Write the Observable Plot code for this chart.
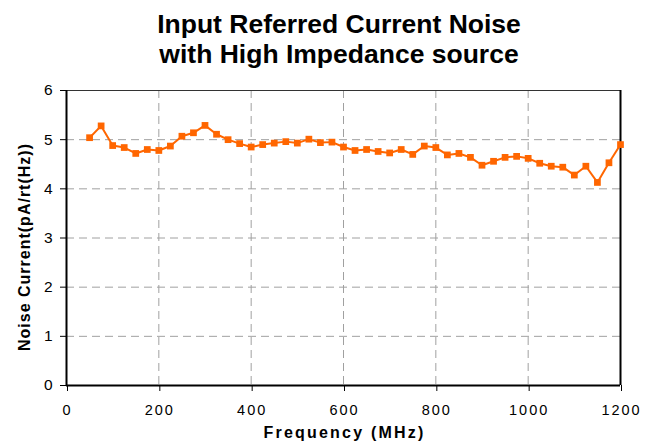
<!DOCTYPE html>
<html><head>
<meta charset="utf-8">
<script src="https://cdn.jsdelivr.net/npm/d3@7"></script>
<script src="https://cdn.jsdelivr.net/npm/@observablehq/plot@0.6"></script>
<style>
body{margin:0;background:#fff;font-family:"Liberation Sans",Arial,sans-serif;}
#title{width:651px;height:80px;box-sizing:border-box;padding-top:9px;padding-left:27px;text-align:center;font-weight:bold;font-size:26.5px;line-height:30px;color:#000;white-space:nowrap;}
.xlab text{letter-spacing:2.2px;}
.ylab text{letter-spacing:1px;}
</style></head><body>
<div id="title">Input Referred Current Noise<br>with High Impedance source</div>
<div id="chart"></div>
<script>
const frequencies=[50,75,100,125,150,175,200,225,250,275,300,325,350,375,400,425,450,475,500,525,550,575,600,625,650,675,700,725,750,775,800,825,850,875,900,925,950,975,1000,1025,1050,1075,1100,1125,1150,1175,1200];
const noise=[5.04,5.28,4.88,4.84,4.72,4.80,4.78,4.87,5.07,5.14,5.29,5.11,5.00,4.92,4.85,4.90,4.93,4.96,4.93,5.01,4.94,4.95,4.85,4.78,4.80,4.76,4.73,4.80,4.70,4.87,4.84,4.69,4.72,4.64,4.48,4.56,4.64,4.66,4.62,4.52,4.46,4.44,4.28,4.46,4.13,4.53,4.90];
const xTicks=[0,200,400,600,800,1000,1200];
const yTicks=[0,1,2,3,4,5,6];
const xLabel="Frequency (MHz)";
const yLabel="Noise Current(pA/rt(Hz))";
const data=frequencies.map((f,i)=>({f,v:noise[i]}));
const grid={stroke:"#a0a0a0",strokeOpacity:1,strokeWidth:1,strokeDasharray:"8,5"};
const chart=Plot.plot({
  width:651,height:362,marginTop:10,marginBottom:57,marginLeft:66,marginRight:31,
  style:{fontFamily:"'Liberation Sans',Arial,sans-serif",fontSize:"14.5px",color:"#000",background:"#fff"},
  x:{domain:[0,1200]},
  y:{domain:[0,6]},
  marks:[
    Plot.gridX(xTicks.filter(d=>d>0&&d<1200),grid),
    Plot.gridY(yTicks.filter(d=>d>0&&d<6),grid),
    Plot.axisX(xTicks,{tickSize:6,tickPadding:13,fontSize:14.5,dx:1,label:null,stroke:"#000",tickFormat:d3.format("d")}),
    Plot.axisY(yTicks,{tickSize:6,tickPadding:8,fontSize:15.5,label:null,stroke:"#000"}),
    Plot.ruleY([6],{stroke:"#333",strokeWidth:1}),
    Plot.ruleX([1200],{stroke:"#000",strokeWidth:2}),
    Plot.ruleX([0],{stroke:"#000",strokeWidth:2}),
    Plot.ruleY([0],{stroke:"#000",strokeWidth:2}),
    Plot.line(data,{x:"f",y:"v",stroke:"#FF6600",strokeWidth:2}),
    Plot.dot(data,{x:"f",y:"v",symbol:"square",fill:"#FF6600",r:3.8}),
    Plot.text([xLabel],{frameAnchor:"bottom",lineAnchor:"middle",textAnchor:"middle",dy:47.5,dx:1,fontWeight:"bold",fontSize:16,text:d=>d,className:"xlab"}),
    Plot.text([yLabel],{frameAnchor:"left",lineAnchor:"middle",textAnchor:"middle",dx:-42,dy:9,rotate:-90,fontWeight:"bold",fontSize:16,text:d=>d,className:"ylab"})
  ]
});
d3.select(chart).selectAll('[aria-label="x-axis tick label"] text').style("letter-spacing","2px");
document.getElementById("chart").appendChild(chart);
</script>
</body></html>
